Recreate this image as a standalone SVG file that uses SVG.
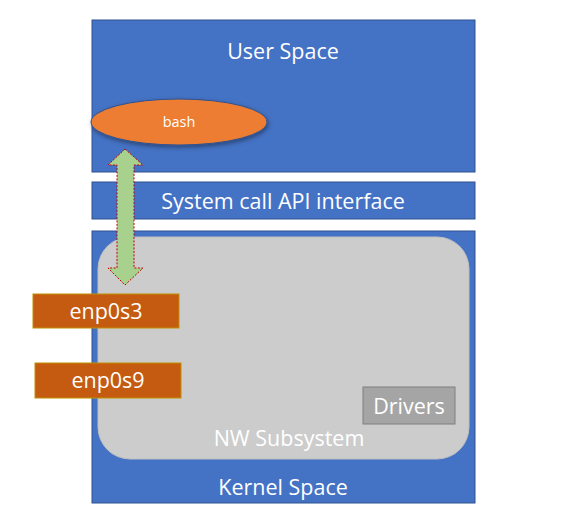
<svg xmlns="http://www.w3.org/2000/svg" width="562" height="522" viewBox="0 0 562 522">
<style>
.layer{fill:#4472C4;stroke:#2F528F;stroke-width:1}
.wt{fill:#FFFFFF;font-family:"Open Sans","Liberation Sans",sans-serif;text-anchor:middle;dominant-baseline:central;font-size:21.5px}
.nic{fill:#C55A11;stroke:#BF9000;stroke-width:1}
</style>
<defs>
<filter id="sh" x="-20%" y="-40%" width="140%" height="180%">
<feDropShadow dx="1" dy="2" stdDeviation="2" flood-color="#000" flood-opacity="0.4"/>
</filter>
</defs>
<rect width="562" height="522" fill="#FFFFFF"/>
<g id="user-space">
<rect class="layer" x="92" y="20" width="383" height="152"/>
<text class="wt" x="283" y="50">User Space</text>
</g>
<g id="syscall">
<rect class="layer" x="92" y="182" width="383" height="37"/>
<text class="wt" x="283" y="200">System call API interface</text>
</g>
<g id="kernel-space">
<rect class="layer" x="92" y="231" width="383" height="272"/>
<text class="wt" x="283" y="486">Kernel Space</text>
</g>
<g id="nw-subsystem">
<rect x="98" y="237" width="371" height="222" rx="32" fill="#CCCCCC" stroke="#BFBFBF" stroke-width="1"/>
<text class="wt" x="289" y="437">NW Subsystem</text>
</g>
<g id="drivers">
<rect x="363" y="387" width="92" height="37" fill="#A5A5A5" stroke="#7F7F7F" stroke-width="1"/>
<text class="wt" x="409" y="405">Drivers</text>
</g>
<g id="bash">
<ellipse cx="179" cy="122" rx="88" ry="23" fill="#ED7D31" stroke="#2F528F" stroke-width="1" filter="url(#sh)"/>
<text class="wt" x="179" y="121.5" style="font-size:14.5px">bash</text>
</g>
<g id="enp0s3">
<rect class="nic" x="33" y="294" width="146" height="34"/>
<text class="wt" x="106" y="310">enp0s3</text>
</g>
<g id="enp0s9">
<rect class="nic" x="35" y="363" width="146" height="35"/>
<text class="wt" x="108" y="379.5">enp0s9</text>
</g>
<g id="connectors">
<path d="M125,149 L143,165 L134,165 L134,268 L143,268 L125,285 L108,268 L117,268 L117,165 L108,165 Z" fill="#A9D18E" stroke="#C00000" stroke-width="1" stroke-dasharray="2,1.5"/>
</g>
</svg>
